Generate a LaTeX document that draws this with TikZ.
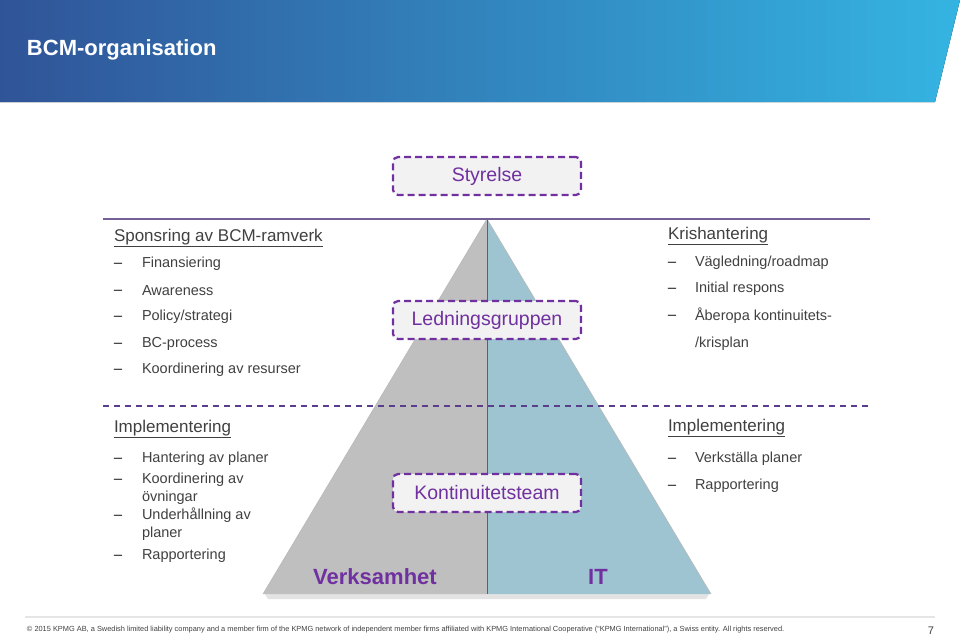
\documentclass[tikz,border=0pt]{standalone}
\usepackage{fontspec}
\setmainfont{Liberation Sans}
\usetikzlibrary{positioning}

\definecolor{kpmgdark}{RGB}{48,84,152}
\definecolor{kpmglight}{RGB}{52,180,226}
\definecolor{lila}{RGB}{112,48,160}
\definecolor{lilaline}{RGB}{116,96,150}
\definecolor{lilabreak}{RGB}{90,62,140}
\definecolor{textgray}{RGB}{64,64,64}
\definecolor{pyrgray}{RGB}{191,191,191}
\definecolor{pyrblue}{RGB}{157,196,208}

\begin{document}
\begin{tikzpicture}[x=1pt, y=-1pt,
   every node/.style={inner sep=0pt, outer sep=0pt},
   gruppbox/.style={draw=lila,
          dash pattern=on 7pt off 4pt,
          line width=2.2pt,
          rounded corners=5pt,
          fill=gray!10,
          minimum width=188pt,
          minimum height=38pt,
          text=lila,
          font=\fontsize{19.5}{22}\selectfont},
   rubrik/.style={anchor=west, text=textgray, font=\fontsize{17}{20}\selectfont},
   punkt/.style={anchor=west, yshift=-1.5pt, text=textgray, align=left,
          font=\fontsize{14.5}{18}\selectfont},
   streck/.style={anchor=west, yshift=-4pt, text=textgray, text height=10pt, text depth=3pt,
          font=\fontsize{17}{18}\selectfont},
   ben/.style={text=lila, font=\bfseries\fontsize{22}{26}\selectfont}]

   \useasboundingbox (0,0) rectangle (960,638);

   % header band
   \fill[left color=kpmgdark, right color=kpmglight]
        (0,0) -- (960,0) -- (935,102) -- (0,102) -- cycle;
   \node[anchor=west,
          text=white,
          font=\bfseries\fontsize{22}{24}\selectfont] (titel) at (27,50) {BCM-organisation};

   % pyramid
   \coordinate (topp) at (487,219);
   \coordinate (basV) at (263,594);
   \coordinate (basM) at (487,594);
   \coordinate (basH) at (711,594);
   \fill[gray!22] (265,594) -- (709,594) -- (706,599) -- (268,599) -- cycle;
   \fill[pyrgray] (topp) -- (basV) -- (basM) -- cycle;
   \fill[pyrblue] (topp) -- (basM) -- (basH) -- cycle;
   \draw[gray!55, line width=0.6pt] (basV) -- (topp) -- (basH);
   \draw[gray!75!black, line width=0.8pt] (topp) -- (basM);

   % separator lines
   \coordinate (solidL) at (103,219);
   \coordinate (solidR) at (870,219);
   \coordinate (brytL) at (103,406);
   \coordinate (brytR) at (870,406);
   \draw[lilaline, line width=2pt] (solidL) -- (solidR);
   \draw[lilabreak, line width=1.5pt, dash pattern=on 6pt off 5pt] (brytL) -- (brytR);

   % boxes
   \node[gruppbox] (styr) at (487,176) {Styrelse};
   \node[gruppbox, below=106pt of styr] (ledn) {Ledningsgruppen};
   \node[gruppbox, below=135pt of ledn] (kont) {Kontinuitetsteam};

   \node[ben] (verks) at (375,577) {Verksamhet};
   \node[ben] (it) at (598,577) {IT};

   % upper left
   \node[rubrik] (sponsr) at (114,238) {\underline{Sponsring av BCM-ramverk}};
   \node[streck] (d1) at (113,262) {−};
   \node[punkt] (p1) at (142,262) {Finansiering};
   \node[streck] (d2) at (113,289) {−};
   \node[punkt] (p2) at (142,289) {Awareness};
   \node[streck] (d3) at (113,315) {−};
   \node[punkt] (p3) at (142,315) {Policy/strategi};
   \node[streck] (d4) at (113,342) {−};
   \node[punkt] (p4) at (142,342) {BC-process};
   \node[streck] (d5) at (113,368) {−};
   \node[punkt] (p5) at (142,368) {Koordinering av resurser};

   % upper right
   \node[rubrik] (kris) at (668,236) {\underline{Krishantering}};
   \node[streck] (k1d) at (667,261) {−};
   \node[punkt] (k1) at (695,261) {Vägledning/roadmap};
   \node[streck] (k2d) at (667,287) {−};
   \node[punkt] (k2) at (695,287) {Initial respons};
   \node[streck] (k3d) at (667,314) {−};
   \node[punkt] (k3) at (695,327.5) {Åberopa kontinuitets-\\[9pt]/krisplan};

   % lower left
   \node[rubrik] (implV) at (114,429) {\underline{Implementering}};
   \node[streck] (i1d) at (113,457) {−};
   \node[punkt] (i1) at (142,457) {Hantering av planer};
   \node[streck] (i2d) at (113,478) {−};
   \node[punkt] (i2) at (142,487) {Koordinering av\\övningar};
   \node[streck] (i3d) at (113,514) {−};
   \node[punkt] (i3) at (142,523) {Underhållning av\\planer};
   \node[streck] (i4d) at (113,554) {−};
   \node[punkt] (i4) at (142,554) {Rapportering};

   % lower right
   \node[rubrik] (implH) at (668,428) {\underline{Implementering}};
   \node[streck] (j1d) at (667,457) {−};
   \node[punkt] (j1) at (695,457) {Verkställa planer};
   \node[streck] (j2d) at (667,484) {−};
   \node[punkt] (j2) at (695,484) {Rapportering};

   % footer
   \coordinate (fotL) at (25,617);
   \coordinate (fotR) at (935,617);
   \draw[gray!20, line width=1.5pt] (fotL) -- (fotR);
   \node[anchor=west,
          text=textgray,
          font=\fontsize{7.4}{9}\selectfont] (fot) at (27,630) {© 2015 KPMG AB, a Swedish limited liability company and a member firm of the KPMG network of independent member firms affiliated with KPMG International Cooperative (“KPMG International”), a Swiss entity. All rights reserved.};
   \node[text=textgray, font=\fontsize{11}{13}\selectfont] (sida) at (931,631) {7};
\end{tikzpicture}
\end{document}
